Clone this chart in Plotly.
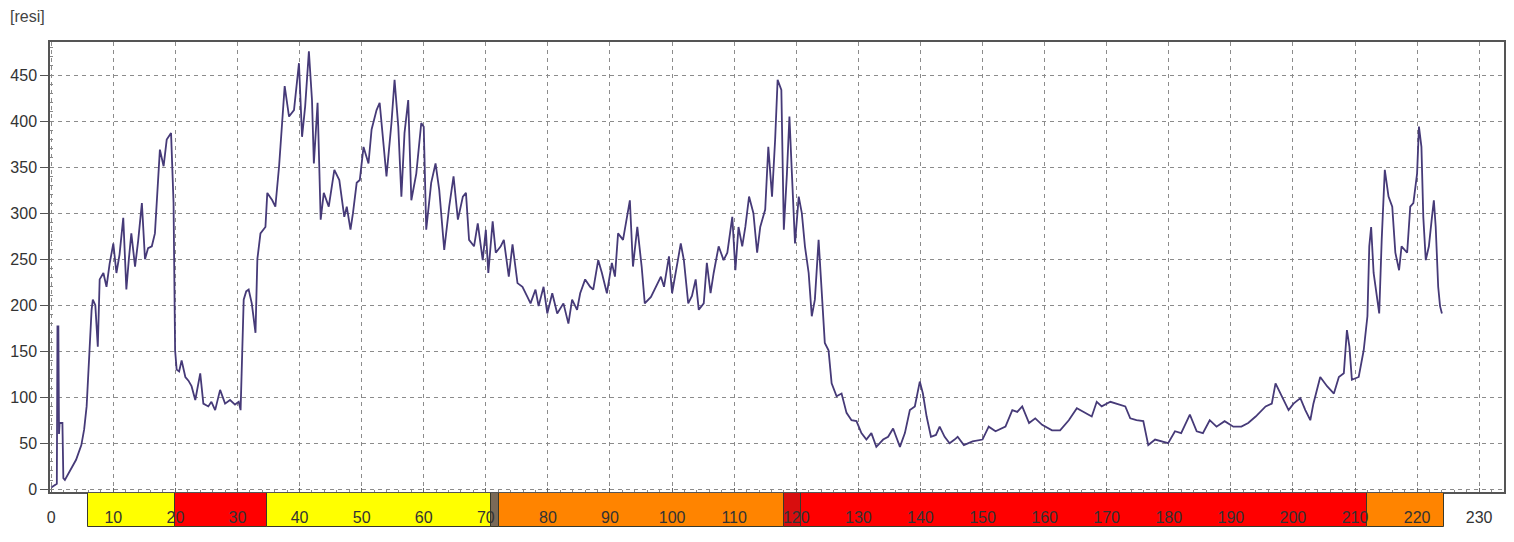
import plotly.graph_objects as go

# ---- data ----
depth = [0, 0.5, 0.9, 1.0, 1.15, 1.25, 1.35, 1.8, 1.95, 2.2, 3.0, 4.0, 4.85, 5.3, 5.7, 6.0, 6.2, 6.5, 6.7, 7.1,
         7.5, 7.8, 8.4, 8.9, 9.4, 10.0, 10.5, 11.0, 11.6, 12.1, 12.5, 12.9, 13.5, 14.0, 14.6, 15.1, 15.6, 16.2, 16.7, 17.0,
         17.5, 18.1, 18.6, 19.3, 19.7, 19.95, 20.2, 20.6, 21.0, 21.6, 22.1, 22.6, 23.2, 24.0, 24.5, 25.3, 25.8, 26.4, 27.2, 28.0,
         28.8, 29.6, 30.2, 30.5, 31.0, 31.4, 31.8, 32.3, 32.9, 33.2, 33.7, 34.5, 34.8, 35.6, 36.1, 36.7, 37.2, 37.6, 38.3, 39.1,
         39.9, 40.4, 40.9, 41.5, 42.0, 42.3, 42.9, 43.4, 43.9, 44.7, 45.6, 46.4, 47.2, 47.6, 48.2, 48.6, 49.2, 49.7, 50.3, 51.1,
         51.6, 52.4, 52.9, 53.5, 54.0, 54.8, 55.3, 55.9, 56.4, 56.9, 57.5, 58.0, 58.8, 59.6, 60.0, 60.4, 61.2, 61.9, 62.5, 63.3,
         64.1, 64.8, 65.5, 66.3, 66.8, 67.3, 68.1, 68.7, 69.5, 70.0, 70.4, 71.1, 71.6, 72.4, 72.9, 73.7, 74.3, 75.1, 75.9, 76.7,
         77.2, 78.0, 78.5, 79.3, 79.9, 80.7, 81.5, 82.5, 83.3, 83.9, 84.7, 85.2, 86.0, 86.8, 87.3, 88.1, 88.7, 89.5, 90.3, 90.8,
         91.3, 92.1, 92.7, 93.2, 93.7, 94.4, 95.1, 95.6, 96.6, 97.4, 98.2, 98.7, 99.5, 100.0, 100.8, 101.4, 101.9, 102.6, 103.2, 103.8,
         104.3, 105.1, 105.6, 106.2, 106.7, 107.5, 108.3, 108.9, 109.7, 110.2, 110.7, 111.3, 111.8, 112.4, 113.1, 113.7, 114.2, 115.0, 115.5, 116.1,
         116.6, 117.0, 117.6, 118.0, 118.5, 118.9, 119.3, 119.8, 120.4, 120.9, 121.4, 122.0, 122.5, 123.0, 123.6, 124.1, 124.6, 125.2, 125.7, 126.5,
         127.3, 128.1, 128.9, 129.7, 130.5, 131.3, 132.1, 132.9, 134.0, 134.8, 135.6, 136.7, 137.5, 138.3, 139.1, 139.9, 140.4, 141.0, 141.7, 142.5,
         143.1, 143.9, 144.7, 145.5, 146.0, 147.0, 148.4, 150.0, 151.0, 152.1, 153.7, 154.8, 155.6, 156.4, 157.5, 158.5, 159.6, 161.2, 162.5, 163.9,
         165.2, 166.3, 167.6, 168.4, 169.2, 170.6, 171.9, 173.0, 173.8, 174.8, 175.9, 176.7, 177.8, 178.8, 179.9, 181.0, 182.0, 183.4, 184.5, 185.5,
         186.6, 187.7, 189.0, 190.4, 191.7, 192.8, 194.0, 195.6, 196.6, 197.2, 198.0, 199.3, 200.1, 201.2, 202.0, 202.8, 203.3, 204.4, 205.5, 206.6,
         207.4, 208.2, 208.7, 209.1, 209.5, 210.6, 211.4, 212.0, 212.3, 212.6, 213.0, 213.5, 213.9, 214.3, 214.8, 215.4, 216.0, 216.5, 217.1, 217.5,
         218.4, 218.9, 219.4, 220.0, 220.3, 220.7, 221.0, 221.4, 221.9, 222.4, 222.7, 223.0, 223.4, 223.7, 224.0]

resi = [2, 4, 6, 177, 177, 60, 72, 72, 12, 10, 20, 32, 48, 65, 90, 130, 151, 195, 206, 200,
        155, 228, 235, 220, 245, 267, 235, 255, 295, 217, 250, 278, 242, 270, 311, 250, 262, 264, 278, 311,
        369, 351, 380, 387, 311, 151, 130, 128, 140, 122, 118, 112, 97, 126, 93, 90, 95, 86, 108, 93,
        97, 92, 95, 86, 206, 215, 217, 202, 170, 250, 278, 285, 322, 314, 307, 351, 401, 438, 405, 412,
        463, 383, 416, 476, 423, 354, 420, 293, 322, 307, 347, 336, 296, 307, 282, 300, 333, 336, 372, 354,
        391, 412, 420, 380, 340, 398, 445, 394, 318, 387, 423, 314, 343, 398, 394, 282, 333, 354, 325, 260,
        307, 340, 293, 318, 322, 271, 264, 289, 249, 282, 235, 291, 257, 264, 271, 231, 266, 224, 220, 209,
        202, 217, 199, 220, 191, 213, 191, 202, 180, 206, 195, 213, 228, 220, 217, 249, 235, 213, 246, 231,
        278, 271, 293, 314, 242, 285, 242, 202, 209, 220, 231, 220, 253, 213, 242, 267, 249, 202, 210, 228,
        195, 202, 246, 213, 235, 264, 249, 257, 296, 238, 285, 264, 285, 318, 300, 257, 285, 304, 372, 318,
        380, 445, 434, 282, 343, 405, 343, 267, 318, 300, 264, 235, 188, 206, 271, 217, 159, 151, 115, 101,
        104, 83, 75, 74, 61, 54, 61, 46, 54, 57, 66, 46, 61, 86, 90, 117, 104, 79, 57, 59,
        68, 57, 50, 54, 57, 48, 52, 54, 68, 63, 68, 86, 84, 90, 72, 77, 70, 64, 64, 75,
        88, 84, 79, 95, 90, 95, 92, 90, 77, 75, 74, 48, 54, 52, 50, 63, 61, 81, 63, 61,
        75, 68, 74, 68, 68, 72, 79, 90, 93, 115, 104, 86, 93, 99, 86, 75, 93, 122, 112, 104,
        122, 126, 173, 155, 119, 122, 151, 188, 264, 285, 235, 213, 191, 271, 347, 318, 307, 257, 238, 264,
        257, 307, 311, 343, 394, 372, 296, 249, 264, 296, 314, 285, 220, 199, 191]

band_start = [6.0, 20.0, 34.8, 70.8, 72.1, 118.1, 120.7, 212.0]
band_end = [20.0, 34.8, 70.8, 72.1, 118.1, 120.7, 212.0, 224.4]
band_color = ["#ffff00", "#ff0000", "#ffff00", "#7a6a58", "#ff8400", "#d80e0e", "#ff0000", "#ff8400"]

x_ticks = list(range(0, 231, 10))
y_ticks = list(range(0, 451, 50))

band_width = [e - s for s, e in zip(band_start, band_end)]

fig = go.Figure()
fig.add_trace(go.Scatter(x=depth, y=resi, mode="lines",
                         line=dict(color="#463a78", width=1.8),
                         xaxis="x", yaxis="y", showlegend=False))
fig.add_trace(go.Bar(x=band_width, base=band_start, y=[0] * len(band_start), orientation="h",
                     marker=dict(color=band_color, line=dict(color="#3a3a2a", width=1)),
                     xaxis="x2", yaxis="y2", showlegend=False, width=1))

# page has an 8px body margin, so the figure is sized/offset to compensate
W, H = 1506, 534
mt, mb, ml, mr = 34, 15, 42, 10
ph = H - mt - mb
main_bottom = (519 - 484) / ph
band_top = (519 - 485) / ph

grid = dict(showgrid=True, gridcolor="#8c8c8c", gridwidth=1, griddash="4px,4px")

fig.update_layout(
    width=W, height=H,
    margin=dict(t=mt, b=mb, l=ml, r=mr, autoexpand=False),
    paper_bgcolor="white", plot_bgcolor="white",
    bargap=0,
    font=dict(family="Liberation Sans, Arial, sans-serif", color="#333333", size=16),
    xaxis=dict(domain=[0, 1], range=[-0.2, 234], anchor="y", automargin=False,
               tickvals=x_ticks, showticklabels=False, zeroline=False,
               ticks="inside", ticklen=4, tickcolor="#666",
               minor=dict(dtick=2, ticks="inside", ticklen=2, tickcolor="#888", showgrid=False),
               showline=True, linecolor="#555555", linewidth=1.5, mirror=True, **grid),
    yaxis=dict(domain=[main_bottom, 1], range=[-3, 486], anchor="x", automargin=False,
               tickvals=y_ticks, ticks="outside", ticklen=8, tickcolor="#555",
               minor=dict(dtick=10, ticks="inside", ticklen=3, tickcolor="#888", showgrid=False),
               zeroline=False, showline=True, linecolor="#555555", linewidth=1.5, mirror=True,
               tickfont=dict(size=16, color="#333333"), **grid),
    xaxis2=dict(domain=[0, 1], matches="x", anchor="free", position=band_top, range=[-0.2, 234],
                automargin=False, tickvals=x_ticks, ticks="outside", ticklen=10,
                tickcolor="rgba(0,0,0,0)", side="bottom",
                showgrid=False, zeroline=False, showline=False,
                tickfont=dict(size=16, color="#333333")),
    yaxis2=dict(domain=[0, band_top], range=[-0.5, 0.5], anchor="x2", automargin=False,
                showticklabels=False, showgrid=False, zeroline=False, showline=False),
    annotations=[dict(text="[resi]", xref="paper", yref="paper", x=-42 / 1454, y=1 + (34 - 9) / ph,
                      xanchor="left", yanchor="middle", showarrow=False,
                      font=dict(size=16, color="#444444"))],
)

fig.write_html("out.html")
